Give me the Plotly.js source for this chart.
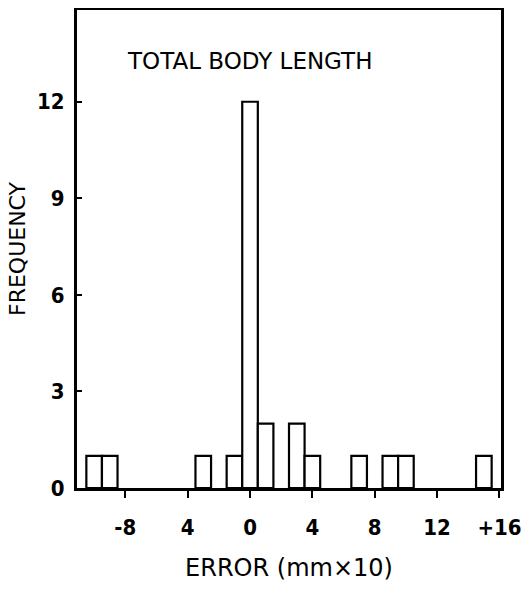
<!DOCTYPE html>
<html><head><meta charset="utf-8">
<script src="https://cdn.plot.ly/plotly-3.0.1.min.js"></script>
<style>body{margin:0;background:#fff}#c{width:522px;height:593px}</style>
</head><body><div id="c"></div>
<script>
const errors = [-10, -9, -3, -1, 0, 1, 3, 4, 7, 9, 10, 15];
const frequency = [1, 1, 1, 1, 12, 2, 2, 1, 1, 1, 1, 1];
const xTickVals = [-8, -4, 0, 4, 8, 12, 16];
const xTickText = ["-8", "4", "0", "4", "8", "12", "+16"];
const yTickVals = [0, 3, 6, 9, 12];

const tickFnt = {family: "DejaVu Sans Condensed, DejaVu Sans, sans-serif", size: 22, color: "#000", weight: "bold"};
const txtFnt = {family: "DejaVu Sans, sans-serif", size: 23, color: "#000"};
Plotly.newPlot("c", [{
  type: "bar", x: errors, y: frequency, width: 1,
  marker: {color: "#fff", line: {color: "#000", width: 2.2}},
  hoverinfo: "none"
}], {
  width: 522, height: 593,
  margin: {l: 77, r: 21, t: 10, b: 105},
  paper_bgcolor: "#fff", plot_bgcolor: "#fff",
  showlegend: false,
  font: txtFnt,
  xaxis: {
    range: [-11.1, 16.1], tickvals: xTickVals, ticktext: xTickText,
    ticks: "outside", ticklen: 7, tickwidth: 2, tickcolor: "#000",
    showgrid: false, zeroline: false, showline: true, linewidth: 2.5, linecolor: "#000",
    mirror: true, ticklabelstandoff: 11, tickfont: tickFnt,
    title: {text: "ERROR (mm×10)", font: {family: "DejaVu Sans, sans-serif", size: 24, color: "#000"}, standoff: 21}
  },
  yaxis: {
    range: [0, 14.85], tickvals: yTickVals,
    ticks: "inside", ticklen: 5, tickwidth: 2, tickcolor: "#000",
    showgrid: false, zeroline: false, showline: true, linewidth: 3, linecolor: "#000",
    mirror: true, ticklabelstandoff: 5, tickfont: tickFnt,
    title: {text: "FREQUENCY", font: {family: "DejaVu Sans, sans-serif", size: 22, color: "#000"}, standoff: 6}
  },
  annotations: [{
    text: "TOTAL BODY LENGTH", xref: "paper", yref: "paper",
    x: 0.114, y: 0.893, xanchor: "left", yanchor: "middle",
    showarrow: false, font: txtFnt
  }]
}, {staticPlot: true});
</script></body></html>
